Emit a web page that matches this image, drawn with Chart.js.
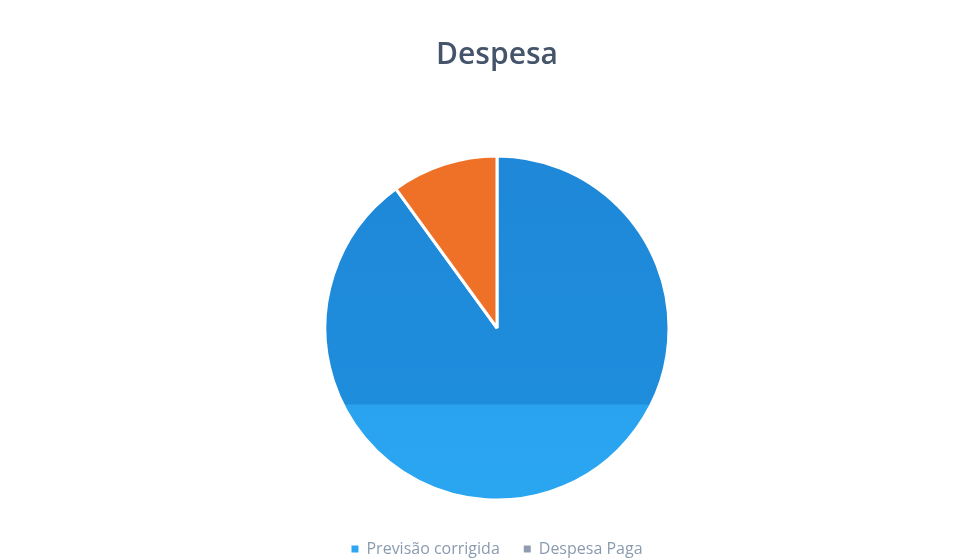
<!DOCTYPE html>
<html><head><meta charset="utf-8">
<script src="https://cdn.jsdelivr.net/npm/chart.js@4/dist/chart.umd.min.js"></script>
<style>html,body{margin:0;padding:0;background:#fff}#wrap{width:966px;height:559px}</style>
</head><body><div id="wrap"><canvas id="c" width="966" height="559"></canvas></div>
<script>
const categories = ["Previsão corrigida", "Despesa Paga"];
const values = [90, 10];
const sliceColors = ["#1f8ad9", "#ee7127"];
const legendColors = ["#2ea6f2", "#8e9db0"];
const PIE_RADIUS = 172;

function blueFill(ctx) {
  const chart = ctx.chart;
  const a = chart.chartArea;
  if (!a) return sliceColors[0];
  const cy = (a.top + a.bottom) / 2;
  const top = cy - PIE_RADIUS, bot = cy + PIE_RADIUS;
  const g = chart.ctx.createLinearGradient(0, top, 0, bot);
  g.addColorStop(0, "#1f88d8");
  g.addColorStop(0.72, "#1e8ddc");
  g.addColorStop(0.725, "#2aa3ef");
  g.addColorStop(1, "#2aa6f1");
  return g;
}

new Chart(document.getElementById("c"), {
  type: "pie",
  data: {
    labels: categories,
    datasets: [{
      data: values,
      radius: PIE_RADIUS,
      backgroundColor: (ctx) => ctx.dataIndex === 0 ? blueFill(ctx) : sliceColors[1],
      borderColor: "#ffffff",
      borderWidth: 3
    }]
  },
  options: {
    responsive: false,
    animation: false,
    layout: { padding: { top: 0, bottom: -8, left: 28, right: 0 } },
    plugins: {
      title: {
        display: true,
        text: "Despesa",
        color: "#44546a",
        font: { family: "Open Sans", size: 30, weight: "600" },
        padding: { top: 37, bottom: 66 }
      },
      legend: {
        position: "bottom",
        labels: {
          color: "#8a9bb0",
          font: { family: "Open Sans", size: 16 },
          boxWidth: 7,
          boxHeight: 7,
          padding: 24,
          generateLabels: (chart) => categories.map((c, i) => ({
            text: c, fillStyle: legendColors[i], strokeStyle: legendColors[i],
            lineWidth: 0, hidden: false, index: i, fontColor: "#8a9bb0"
          }))
        }
      },
      tooltip: { enabled: false }
    }
  }
});
</script></body></html>
